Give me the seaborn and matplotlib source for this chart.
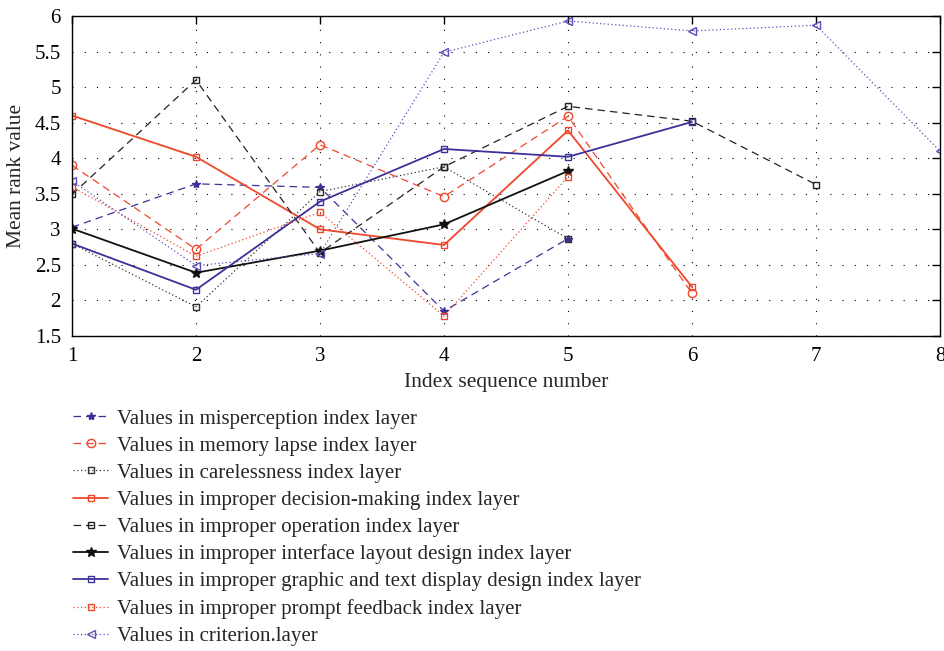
import numpy as np
import pandas as pd
import matplotlib.pyplot as plt
import seaborn as sns

# Values
x_seq = [1, 2, 3, 4, 5, 6, 7, 8]
misperception = [3.03, 3.64, 3.59, 1.85, 2.87]
memory_lapse = [3.90, 2.72, 4.19, 3.46, 4.59, 2.10]
carelessness = [2.80, 1.91, 3.53, 3.88, 2.87]
decision_making = [4.60, 4.02, 3.00, 2.78, 4.39, 2.19]
operation = [3.49, 5.10, 2.67, 3.88, 4.73, 4.52, 3.63]
interface_layout = [3.01, 2.39, 2.70, 3.07, 3.82]
graphic_text = [2.80, 2.15, 3.39, 4.13, 4.02, 4.51]
prompt_feedback = [3.60, 2.62, 3.24, 1.78, 3.74]
criterion = [3.68, 2.49, 2.66, 5.49, 5.93, 5.79, 5.87, 4.10]

labels = [
    "Values in misperception index layer",
    "Values in memory lapse index layer",
    "Values in carelessness index layer",
    "Values in improper decision-making index layer",
    "Values in improper operation index layer",
    "Values in improper interface layout design index layer",
    "Values in improper graphic and text display design index layer",
    "Values in improper prompt feedback index layer",
    "Values in criterion.layer",
]
series = [misperception, memory_lapse, carelessness, decision_making, operation,
          interface_layout, graphic_text, prompt_feedback, criterion]

blue = "#3b3199"
red = "#f0472b"
styles = [
    dict(color=blue, linestyle=(0, (6, 4)), marker="*", lw=0.9, ms=6, mfc=blue),
    dict(color=red, linestyle=(0, (6, 4)), marker="o", lw=0.9, ms=6, mfc="none"),
    dict(color="#333333", linestyle=(0, (1, 2)), marker="s", lw=0.9, ms=5, mfc="none"),
    dict(color=red, linestyle="-", marker="s", lw=1.3, ms=5, mfc="none"),
    dict(color="#222222", linestyle=(0, (6, 4)), marker="s", lw=0.9, ms=5, mfc="none"),
    dict(color="#111111", linestyle="-", marker="*", lw=1.3, ms=7, mfc="#111111"),
    dict(color=blue, linestyle="-", marker="s", lw=1.3, ms=5, mfc="none"),
    dict(color=red, linestyle=(0, (1, 2)), marker="s", lw=0.9, ms=5, mfc="none"),
    dict(color="#5a50b8", linestyle=(0, (1, 2)), marker="<", lw=0.9, ms=6, mfc="none"),
]

sns.set_theme(style="white")
plt.rcParams["font.family"] = ["Liberation Serif", "DejaVu Serif"]

fig = plt.figure(figsize=(9.45, 6.51), dpi=100)
ax = fig.add_axes([72 / 945, 1 - 336 / 651, (940 - 72) / 945, (336 - 16) / 651])

for vals, lab, st in zip(series, labels, styles):
    df = pd.DataFrame({"x": x_seq[:len(vals)], "y": vals})
    sns.lineplot(data=df, x="x", y="y", ax=ax, label=lab, color=st["color"],
                 linestyle=st["linestyle"], linewidth=st["lw"], marker=st["marker"],
                 markersize=st["ms"], markerfacecolor=st["mfc"],
                 markeredgecolor=st["color"], markeredgewidth=1.0, legend=False)

ax.set_xlim(1, 8)
ax.set_ylim(1.5, 6)
ax.set_xticks(x_seq)
ax.set_yticks([1.5, 2, 2.5, 3, 3.5, 4, 4.5, 5, 5.5, 6])
ax.set_yticklabels(["1.5", "2", "2.5", "3", "3.5", "4", "4.5", "5", "5.5", "6"])
ax.grid(True, color="black", linestyle=(0, (1, 10)), linewidth=0.8)
ax.tick_params(direction="in", top=True, right=True, length=6, width=1,
               labelsize=15, colors="black", pad=8)
for sp in ax.spines.values():
    sp.set_color("black")
    sp.set_linewidth(1.0)
ax.set_xlabel("Index sequence number", fontsize=15.5, labelpad=5)
ax.set_ylabel("Mean rank value", fontsize=15.5, labelpad=6)

handles, labs = ax.get_legend_handles_labels()
fig.legend(handles, labs, loc="upper left", bbox_to_anchor=(73 / 945, 1 - 409 / 651),
           frameon=False, fontsize=15, handlelength=1.7, handletextpad=0.4,
           labelspacing=0.36, borderaxespad=0, borderpad=0)

plt.savefig("out.png", dpi=100)
